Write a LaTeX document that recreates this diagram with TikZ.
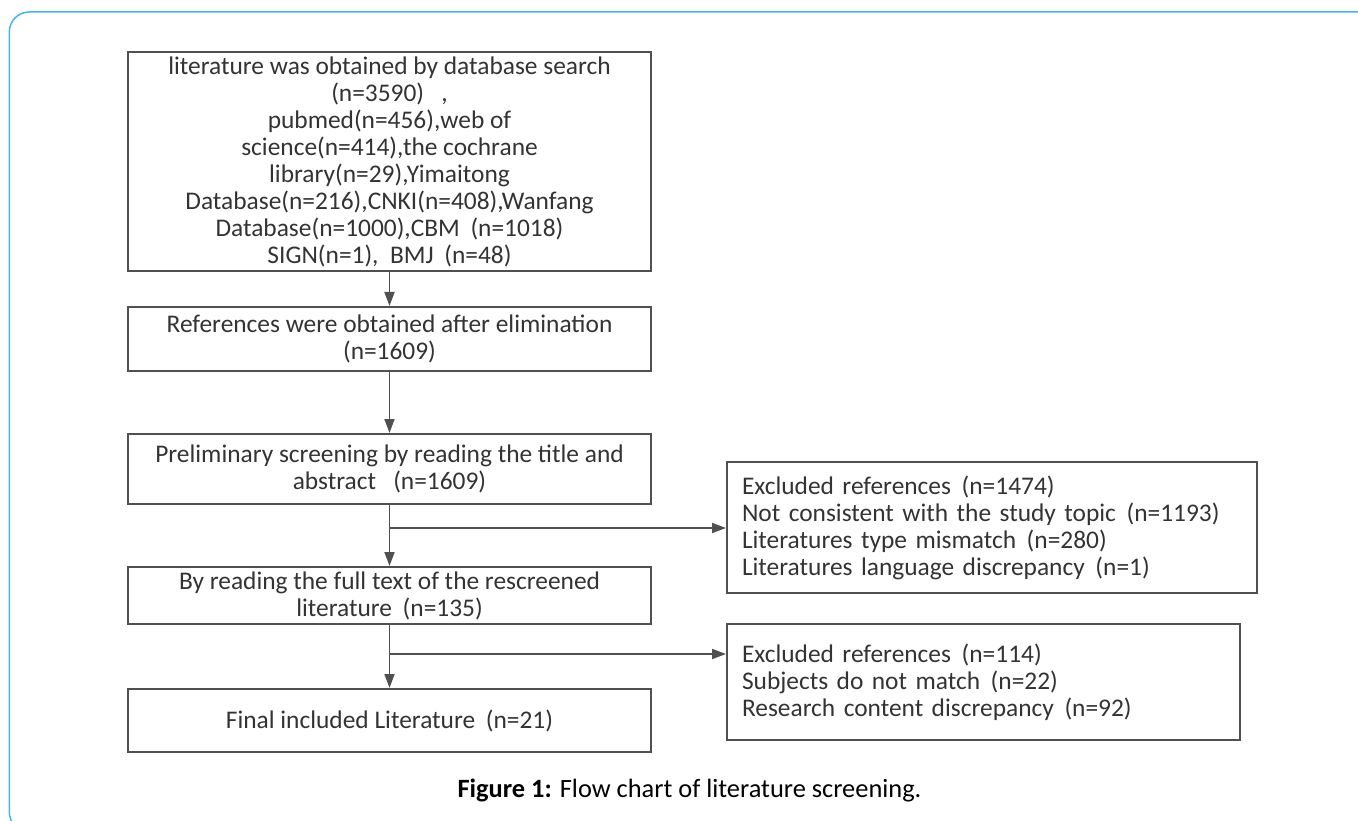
\documentclass[tikz,border=0pt]{standalone}
\usepackage{fontspec}
\setmainfont{Carlito}
\usetikzlibrary{arrows.meta,calc}
\definecolor{framec}{HTML}{45B6E6}
\definecolor{linec}{HTML}{505050}
\definecolor{textc}{HTML}{333333}
\newcommand{\gp}{\hspace{0.42em}}
\tikzset{
  stepbox/.style={draw=linec, line width=2pt, text=textc, align=center, inner sep=0pt,
    font=\fontsize{25.4}{27}\selectfont},
  sidebox/.style={draw=linec, line width=2pt, text=textc, align=left, inner xsep=15pt, inner ysep=0pt,
    font=\fontsize{25.4}{27}\selectfont},
  conn/.style={draw=linec, line width=1.8pt, -{Triangle[length=14pt,width=10pt]}},
}
\begin{document}
\begin{tikzpicture}[x=1pt,y=-1pt]
\useasboundingbox (0,0) rectangle (1358,821);
\clip (0,0) rectangle (1358,821);
\draw[framec, line width=1.5pt, rounded corners=20pt] (9.3,12) rectangle (1400,832);

\node[stepbox, minimum width=523pt, minimum height=219pt] (b1) at (389.5,161.5)
 {literature was obtained by database search\\
  (n=3590)\ \ \ ,\\
  pubmed(n=456),web of\\
  science(n=414),the cochrane\\
  library(n=29),Yimaitong\\
  Database(n=216),CNKI(n=408),Wanfang\\
  Database(n=1000),CBM\gp(n=1018)\\
  SIGN(n=1),\ \ BMJ\gp(n=48)};
\node[stepbox, minimum width=523pt, minimum height=64pt] (b2) at (389.5,339)
 {References were obtained after elimination\\(n=1609)};
\node[stepbox, minimum width=523pt, minimum height=70pt] (b3) at (389.5,469)
 {Preliminary screening by reading the title and\\abstract\ \ \ (n=1609)};
\node[stepbox, minimum width=523pt, minimum height=57pt] (b4) at (389.5,595.5)
 {By reading the full text of the rescreened\\literature\gp(n=135)};
\node[stepbox, minimum width=523pt, minimum height=63pt] (b5) at (389.5,720.5)
 {Final included Literature\gp(n=21)};

\node[sidebox, text width=500pt, minimum height=131pt] (r1) at (992,527.5)
 {Excluded references\gp(n=1474)\\
  Not consistent with the study topic\gp(n=1193)\\
  Literatures type mismatch\gp(n=280)\\
  Literatures language discrepancy\gp(n=1)};
\node[sidebox, text width=483pt, minimum height=116pt] (r2) at (983.5,682)
 {Excluded references\gp(n=114)\\
  Subjects do not match\gp(n=22)\\
  Research content discrepancy\gp(n=92)};

\coordinate (j1) at (389.5,528);
\coordinate (j2) at (389.5,654);

\draw[conn] (b1.south) -- (b2.north);
\draw[conn] (b2.south) -- (b3.north);
\draw[conn] (b3.south) -- (b4.north);
\draw[conn] (b4.south) -- (b5.north);
\draw[conn] (j1) -- (j1 -| r1.west);
\draw[conn] (j2) -- (j2 -| r2.west);

\node[font=\fontsize{26.4}{30}\selectfont, text=black, inner sep=0pt] (cap) at (689.5,791)
 {\textbf{Figure 1:} Flow chart of literature screening.};
\end{tikzpicture}
\end{document}
